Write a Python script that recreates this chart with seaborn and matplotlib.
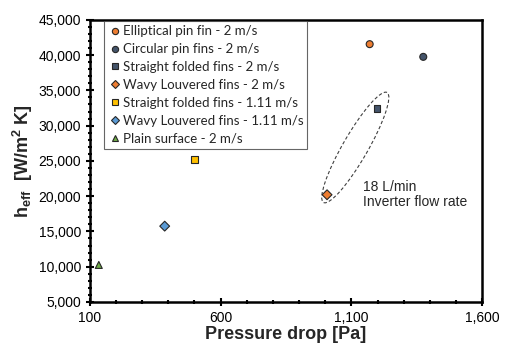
import numpy as np
import pandas as pd
import matplotlib
matplotlib.use("Agg")
import matplotlib.pyplot as plt
import matplotlib.transforms as mtransforms
from matplotlib.patches import Ellipse
from matplotlib.ticker import MultipleLocator, FuncFormatter
import seaborn as sns

# data
series = [
    "Elliptical pin fin - 2 m/s",
    "Circular pin fins - 2 m/s",
    "Straight folded fins - 2 m/s",
    "Wavy Louvered fins - 2 m/s",
    "Straight folded fins - 1.11 m/s",
    "Wavy Louvered fins - 1.11 m/s",
    "Plain surface - 2 m/s",
]
pressure_drop = [1170, 1375, 1198, 1007, 499, 386, 134]
h_eff = [41550, 39750, 32450, 20200, 25250, 15750, 10250]
x_ticks = [100, 600, 1100, 1600]

colors = ["#ED7D31", "#44546A", "#44546A", "#ED7D31", "#FFC000", "#5B9BD5", "#70AD47"]
markers = ["o", "o", "s", "D", "s", "D", "^"]

df = pd.DataFrame({"series": series, "dp": pressure_drop, "h": h_eff})

sns.set_style("ticks")
plt.rcParams["font.family"] = ["Liberation Sans", "DejaVu Sans"]
plt.rcParams["mathtext.fontset"] = "custom"
plt.rcParams["mathtext.rm"] = "Liberation Sans"
plt.rcParams["mathtext.bf"] = "Liberation Sans:bold"

fig = plt.figure(figsize=(5.08, 3.54), dpi=100)
ax = fig.add_axes([0.177, 0.147, 0.772, 0.797])

sns.scatterplot(
    data=df, x="dp", y="h",
    hue="series", style="series",
    palette=dict(zip(series, colors)),
    markers=dict(zip(series, markers)),
    hue_order=series, style_order=series,
    s=25, edgecolor="#262626", linewidth=0.8,
    ax=ax, zorder=3,
)

ax.set_xlim(100, 1600)
ax.set_ylim(5000, 45000)
ax.set_xticks(x_ticks)
ax.xaxis.set_minor_locator(MultipleLocator(100))
ax.yaxis.set_major_locator(MultipleLocator(5000))
ax.yaxis.set_minor_locator(MultipleLocator(1000))
fmt = FuncFormatter(lambda v, p: f"{v:,.0f}")
ax.xaxis.set_major_formatter(fmt)
ax.yaxis.set_major_formatter(fmt)
ax.tick_params(which="major", direction="inout", length=6, width=1.5, labelsize=10, colors="black")
ax.tick_params(which="minor", direction="inout", length=3, width=1.5, colors="black")
for sp in ax.spines.values():
    sp.set_linewidth(1.8)
    sp.set_color("black")
    sp.set_visible(True)

ax.set_xlabel("Pressure drop [Pa]", fontsize=13, fontweight="bold", labelpad=1)
ax.set_ylabel(r"h$_{\mathbf{eff}}$  [W/m$^{\mathbf{2}}$ K]", fontsize=13, fontweight="bold", labelpad=2)

# dashed ellipse around the 18 L/min points (sized in inches, centred in data)
ell = Ellipse((0, 0), width=1.27, height=0.25, angle=60,
              fill=False, linestyle=(0, (3, 2)), linewidth=0.8, edgecolor="#404040",
              transform=fig.dpi_scale_trans + mtransforms.ScaledTranslation(1115, 26900, ax.transData))
ax.add_patch(ell)
ax.text(1145, 22300, "18 L/min\nInverter flow rate", fontsize=10, va="top", ha="left", linespacing=1.1)

leg = ax.legend(loc="upper left", bbox_to_anchor=(0.036, 0.995), borderaxespad=0,
                frameon=True, fancybox=False, handletextpad=0.1,
                handlelength=1.0, labelspacing=0.45, borderpad=0.3, markerscale=0.9,
                prop={"family": ["Lato", "DejaVu Sans"], "size": 9.5})
leg.get_frame().set_edgecolor("#404040")
leg.get_frame().set_linewidth(0.8)

fig.savefig("out.png", dpi=100)
